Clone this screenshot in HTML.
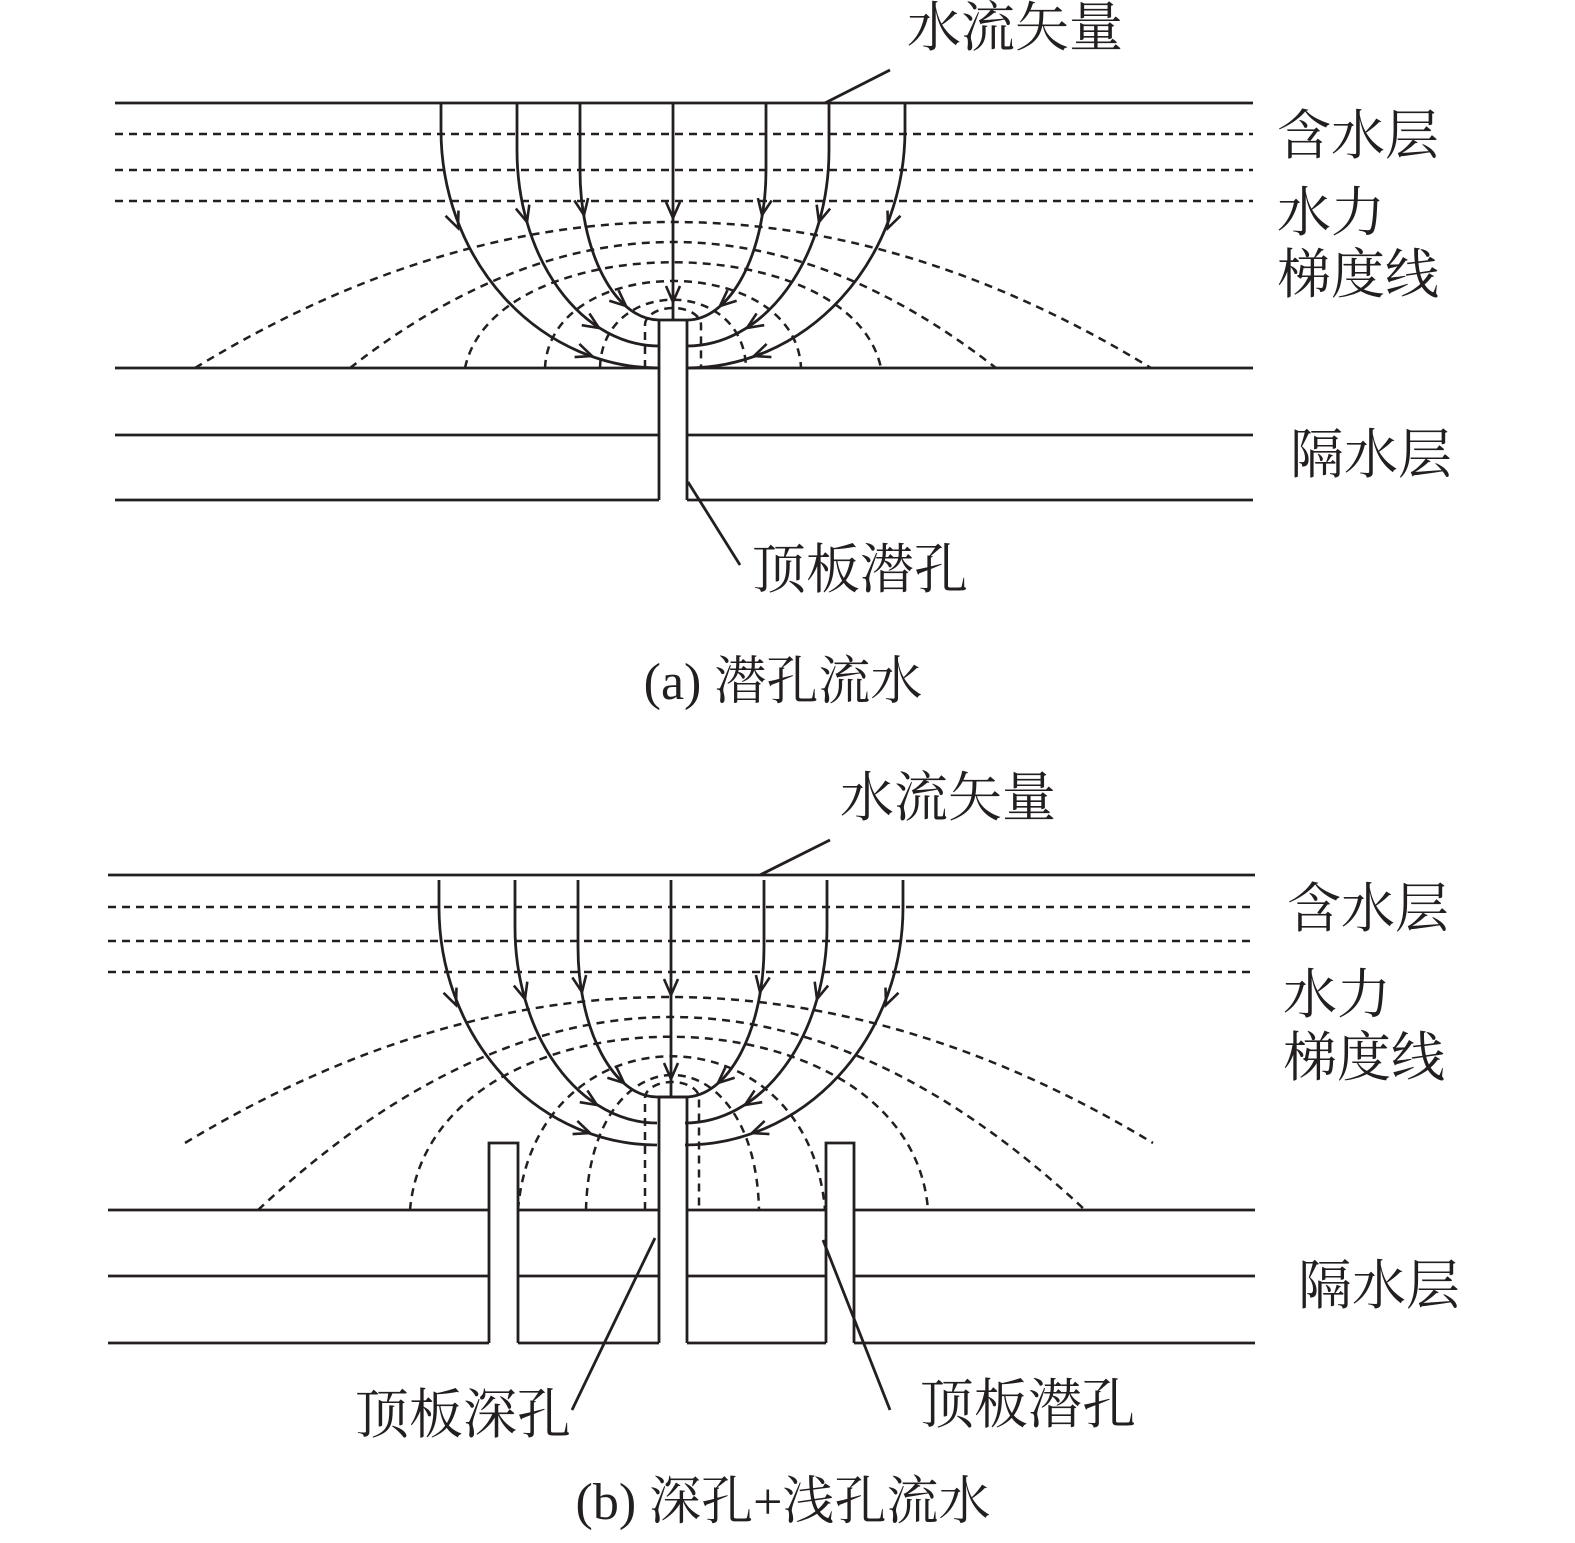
<!DOCTYPE html>
<html><head><meta charset="utf-8"><style>
html,body{margin:0;padding:0;background:#fff;}
svg{display:block;}
text{font-family:"Liberation Serif","Noto Serif CJK SC",serif;fill:#231f20;}
</style></head><body>
<svg width="1575" height="1543" viewBox="0 0 1575 1543" xmlns="http://www.w3.org/2000/svg">
<defs>
<g id="flow" fill="none" stroke="#231f20" stroke-width="2.8">
  <path d="M441 103 L441 130 A218 238 0 0 0 659 368"/>
  <path d="M517 103 L517 150 A142 196 0 0 0 659 346"/>
  <path d="M580 103 L580 170 A79 150 0 0 0 659 320"/>
  <path d="M673 103 L673 320"/>
  <path d="M905 103 L905 130 A218 238 0 0 1 687 368"/>
  <path d="M829 103 L829 150 A142 196 0 0 1 687 346"/>
  <path d="M766 103 L766 170 A79 150 0 0 1 687 320"/>
  <path d="M659 320 L687 320"/>
  <g stroke-width="2.6">
    <g transform="translate(458,228) rotate(68)"><path d="M-16 -7 L0 0 L-16 7"/></g>
    <g transform="translate(527,222) rotate(74)"><path d="M-16 -7 L0 0 L-16 7"/></g>
    <g transform="translate(584,215) rotate(80)"><path d="M-16 -7 L0 0 L-16 7"/></g>
    <g transform="translate(673,218) rotate(90)"><path d="M-16 -7 L0 0 L-16 7"/></g>
    <g transform="translate(673,302) rotate(90)"><path d="M-16 -7 L0 0 L-16 7"/></g>
    <g transform="translate(888,228) rotate(112)"><path d="M-16 -7 L0 0 L-16 7"/></g>
    <g transform="translate(819,222) rotate(106)"><path d="M-16 -7 L0 0 L-16 7"/></g>
    <g transform="translate(762,215) rotate(100)"><path d="M-16 -7 L0 0 L-16 7"/></g>
    <g transform="translate(626,306) rotate(41)"><path d="M-16 -7 L0 0 L-16 7"/></g>
    <g transform="translate(599,328) rotate(33)"><path d="M-16 -7 L0 0 L-16 7"/></g>
    <g transform="translate(592,356) rotate(20)"><path d="M-16 -7 L0 0 L-16 7"/></g>
    <g transform="translate(720,306) rotate(139)"><path d="M-16 -7 L0 0 L-16 7"/></g>
    <g transform="translate(747,328) rotate(147)"><path d="M-16 -7 L0 0 L-16 7"/></g>
    <g transform="translate(754,356) rotate(160)"><path d="M-16 -7 L0 0 L-16 7"/></g>
  </g>
</g>
</defs>

<g stroke="#231f20" stroke-width="2.8" fill="none">
<!-- (a) -->
<line x1="115" y1="103" x2="1253" y2="103"/>
<g stroke-dasharray="8,6" stroke-width="2.5">
<line x1="115" y1="134" x2="1253" y2="134"/>
<line x1="115" y1="170" x2="1253" y2="170"/>
<line x1="115" y1="201" x2="1253" y2="201"/>
<path d="M195 368 Q673 76 1151 368"/>
<path d="M350 368 Q673 116 996 368"/>
<path d="M465 368 C495 227 851 227 881 368"/>
<path d="M545 368 C550 252 796 252 801 368"/>
<path d="M600 368 C602 277 744 277 746 368"/>
<path d="M645 368 L645 325 A28 17 0 0 1 701 325 L701 368"/>
</g>
<line x1="115" y1="368" x2="659" y2="368"/>
<line x1="687" y1="368" x2="1253" y2="368"/>
<line x1="115" y1="435" x2="659" y2="435"/>
<line x1="687" y1="435" x2="1253" y2="435"/>
<line x1="115" y1="500" x2="659" y2="500"/>
<line x1="687" y1="500" x2="1253" y2="500"/>
<line x1="659" y1="320" x2="659" y2="500"/>
<line x1="687" y1="320" x2="687" y2="500"/>
<line x1="825" y1="103" x2="890" y2="70"/>
<line x1="688" y1="482" x2="740" y2="565"/>
</g>
<use href="#flow"/>

<g stroke="#231f20" stroke-width="2.8" fill="none">
<!-- (b) -->
<line x1="108" y1="875" x2="1255" y2="875"/>
<g stroke-dasharray="8,6" stroke-width="2.5">
<line x1="108" y1="907" x2="1255" y2="907"/>
<line x1="108" y1="941" x2="1255" y2="941"/>
<line x1="108" y1="972" x2="1255" y2="972"/>
<path d="M185 1143 Q669 851 1153 1143"/>
<path d="M258 1210 Q672 824 1085 1210"/>
<path d="M410 1210 C430 979 910 979 928 1210"/>
<path d="M518 1210 C535 1005 808 1005 825 1210"/>
<path d="M586 1210 C590 1030 755 1030 759 1210"/>
<path d="M645 1210 L645 1098 A27 16 0 0 1 699 1098 L699 1210"/>
</g>
<path d="M108 1210 L489 1210 M518 1210 L659 1210 M687 1210 L826 1210 M854 1210 L1255 1210"/>
<path d="M108 1276 L489 1276 M518 1276 L659 1276 M687 1276 L826 1276 M854 1276 L1255 1276"/>
<path d="M108 1343 L489 1343 M518 1343 L659 1343 M687 1343 L826 1343 M854 1343 L1255 1343"/>
<path d="M659 1343 L659 1097 L687 1097 L687 1343"/>
<path d="M489 1343 L489 1143 L518 1143 L518 1343"/>
<path d="M826 1343 L826 1143 L854 1143 L854 1343"/>
<line x1="760" y1="875" x2="830" y2="840"/>
<line x1="655" y1="1238" x2="572" y2="1410"/>
<line x1="823" y1="1240" x2="890" y2="1410"/>
</g>
<use href="#flow" transform="translate(-2,777)"/>

<g font-size="54">
<text x="907" y="46">水流矢量</text>
<text x="1277" y="154">含水层</text>
<text x="1277" y="231">水力</text>
<text x="1277" y="293">梯度线</text>
<text x="1290" y="473">隔水层</text>
<text x="752" y="588">顶板潜孔</text>
<text x="840" y="816">水流矢量</text>
<text x="1287" y="927">含水层</text>
<text x="1283" y="1013">水力</text>
<text x="1283" y="1076">梯度线</text>
<text x="1298" y="1304">隔水层</text>
<text x="355" y="1433">顶板深孔</text>
<text x="920" y="1423">顶板潜孔</text>
</g>
<g font-size="52">
<text x="783" y="699" text-anchor="middle">(a) 潜孔流水</text>
<text x="783" y="1519" text-anchor="middle">(b) 深孔+浅孔流水</text>
</g>
</svg>
</body></html>
